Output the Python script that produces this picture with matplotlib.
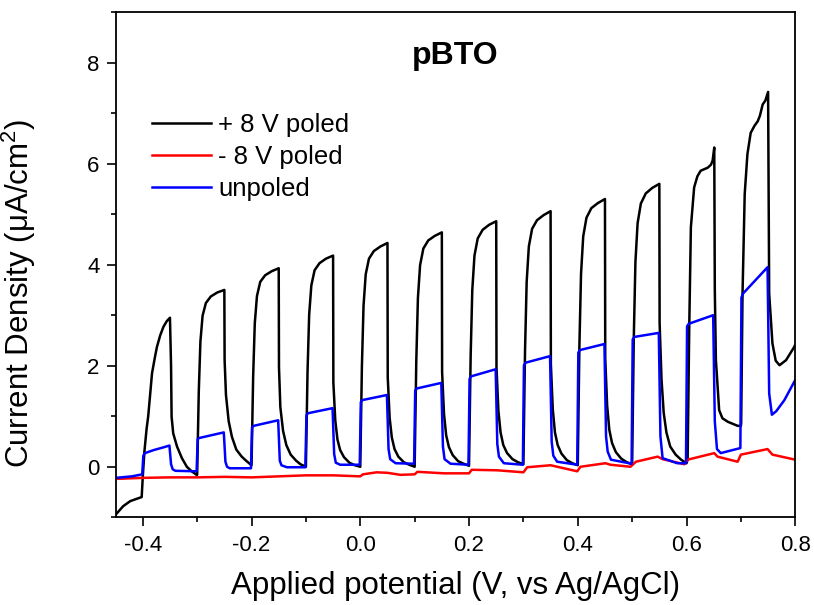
import matplotlib
matplotlib.use("Agg")
import matplotlib.pyplot as plt
from matplotlib.ticker import MultipleLocator

plt.rcParams["font.family"] = ["Liberation Sans", "DejaVu Sans"]
plt.rcParams["mathtext.fontset"] = "custom"
plt.rcParams["mathtext.rm"] = "Liberation Sans"
plt.rcParams["mathtext.it"] = "Liberation Sans:italic"

# chopped-light LSV (potential in V, current in uA/cm2)
pos_x = [
    -0.450, -0.436, -0.423, -0.410, -0.402, -0.400, -0.397, -0.393, -0.390, -0.386, -0.383, -0.378, -0.374, -0.368, -0.362, -0.356, -0.350,
    -0.348, -0.347, -0.344, -0.337, -0.328, -0.319, -0.310, -0.301,
    -0.300, -0.297, -0.294, -0.290, -0.284, -0.275, -0.263, -0.250, -0.2495, -0.247, -0.242, -0.236, -0.228, -0.218, -0.210,
    -0.200, -0.197, -0.194, -0.190, -0.184, -0.175, -0.163, -0.150, -0.1495, -0.147, -0.142, -0.136, -0.128, -0.118, -0.110,
    -0.100, -0.097, -0.094, -0.090, -0.084, -0.075, -0.063, -0.050, -0.0495, -0.046, -0.042, -0.037, -0.030, -0.020, -0.010,
    0.000, 0.003, 0.006, 0.010, 0.016, 0.025, 0.037, 0.050, 0.0505, 0.054, 0.058, 0.063, 0.070, 0.080, 0.090,
    0.100, 0.103, 0.106, 0.110, 0.116, 0.125, 0.137, 0.150, 0.1505, 0.154, 0.158, 0.163, 0.170, 0.180, 0.190,
    0.200, 0.203, 0.206, 0.210, 0.216, 0.225, 0.237, 0.250, 0.2505, 0.254, 0.258, 0.263, 0.270, 0.280, 0.290,
    0.300, 0.303, 0.306, 0.310, 0.316, 0.325, 0.337, 0.350, 0.3505, 0.354, 0.358, 0.363, 0.370, 0.380, 0.390,
    0.400, 0.403, 0.406, 0.410, 0.416, 0.425, 0.437, 0.450, 0.4505, 0.454, 0.458, 0.463, 0.470, 0.480, 0.490,
    0.500, 0.503, 0.506, 0.510, 0.516, 0.525, 0.537, 0.550, 0.5505, 0.554, 0.558, 0.563, 0.570, 0.580, 0.590,
    0.600, 0.602, 0.605, 0.608, 0.614, 0.620, 0.626, 0.639, 0.645, 0.648, 0.651, 0.652, 0.654, 0.660, 0.666, 0.676, 0.694,
    0.700, 0.7005, 0.703, 0.707, 0.712, 0.718, 0.725, 0.731, 0.735, 0.740, 0.745, 0.750, 0.752, 0.758, 0.764, 0.771, 0.783, 0.798, 0.800,
]
pos_y = [
    -0.95, -0.78, -0.68, -0.63, -0.60, -0.20, 0.30, 0.75, 1.00, 1.50, 1.85, 2.15, 2.37, 2.60, 2.77, 2.88, 2.95,
    2.00, 0.99, 0.66, 0.40, 0.17, 0.00, -0.09, -0.16,
    -0.16, 1.49, 2.48, 2.99, 3.24, 3.37, 3.45, 3.50, 2.11, 1.42, 0.90, 0.59, 0.34, 0.20, 0.12,
    0.03, 1.79, 2.84, 3.38, 3.66, 3.79, 3.87, 3.93, 1.97, 1.18, 0.71, 0.43, 0.24, 0.12, 0.05,
    0.00, 1.88, 3.01, 3.59, 3.89, 4.03, 4.12, 4.18, 1.67, 0.92, 0.54, 0.33, 0.19, 0.08, 0.03,
    0.00, 1.99, 3.19, 3.81, 4.12, 4.27, 4.36, 4.43, 1.77, 0.97, 0.58, 0.35, 0.20, 0.09, 0.04,
    0.00, 2.09, 3.34, 3.99, 4.32, 4.48, 4.57, 4.64, 1.87, 1.04, 0.62, 0.39, 0.23, 0.11, 0.06,
    0.02, 2.20, 3.50, 4.18, 4.52, 4.69, 4.79, 4.86, 1.97, 1.11, 0.68, 0.43, 0.27, 0.15, 0.09,
    0.05, 2.30, 3.66, 4.36, 4.71, 4.88, 4.98, 5.06, 2.04, 1.14, 0.68, 0.43, 0.26, 0.13, 0.07,
    0.03, 2.40, 3.82, 4.56, 4.93, 5.12, 5.22, 5.30, 2.15, 1.21, 0.73, 0.47, 0.29, 0.16, 0.09,
    0.05, 2.55, 4.05, 4.82, 5.21, 5.41, 5.52, 5.60, 2.84, 1.73, 1.07, 0.68, 0.40, 0.24, 0.14,
    0.07, 0.14, 2.77, 4.74, 5.53, 5.75, 5.86, 5.92, 5.98, 6.06, 6.32, 3.50, 2.11, 1.12, 0.96, 0.89, 0.81,
    0.81, 0.86, 3.43, 5.40, 6.19, 6.61, 6.75, 6.84, 6.95, 7.17, 7.25, 7.42, 3.43, 2.44, 2.10, 2.01, 2.11, 2.37, 2.42,
]

neg_x = [-0.45, -0.40, -0.35, -0.30, -0.25, -0.20, -0.15, -0.10, -0.05, 0.0, 0.005, 0.03, 0.05, 0.074,
         0.10, 0.105, 0.154, 0.20, 0.205, 0.252, 0.30, 0.307, 0.35, 0.399, 0.405, 0.451, 0.46, 0.497,
         0.507, 0.547, 0.556, 0.596, 0.602, 0.651, 0.657, 0.694, 0.70, 0.749, 0.758, 0.80]
neg_y = [-0.24, -0.22, -0.21, -0.21, -0.20, -0.21, -0.19, -0.17, -0.17, -0.19, -0.15, -0.11, -0.12, -0.16,
         -0.15, -0.10, -0.13, -0.13, -0.06, -0.07, -0.11, -0.01, 0.03, -0.09, 0.00, 0.07, 0.04, 0.00,
         0.10, 0.20, 0.15, 0.05, 0.14, 0.27, 0.20, 0.10, 0.24, 0.35, 0.24, 0.14]

unp_x = [
    -0.45, -0.42, -0.401, -0.399, -0.396, -0.38, -0.36, -0.351, -0.348, -0.345, -0.34, -0.301,
    -0.299, -0.296, -0.251, -0.248, -0.245, -0.24, -0.201,
    -0.199, -0.196, -0.151, -0.148, -0.145, -0.135, -0.101,
    -0.099, -0.096, -0.051, -0.048, -0.045, -0.037, -0.001,
    0.001, 0.004, 0.049, 0.052, 0.055, 0.065, 0.099,
    0.101, 0.104, 0.149, 0.152, 0.155, 0.166, 0.199,
    0.201, 0.204, 0.249, 0.252, 0.255, 0.264, 0.299,
    0.301, 0.304, 0.349, 0.352, 0.355, 0.362, 0.399,
    0.401, 0.404, 0.449, 0.452, 0.455, 0.461, 0.499,
    0.501, 0.504, 0.549, 0.552, 0.556, 0.583, 0.599,
    0.601, 0.604, 0.649, 0.652, 0.656, 0.663, 0.699,
    0.701, 0.704, 0.749, 0.752, 0.757, 0.765, 0.78, 0.80,
]
unp_y = [
    -0.22, -0.19, -0.15, 0.22, 0.27, 0.33, 0.39, 0.42, 0.05, -0.05, -0.08, -0.09,
    0.55, 0.57, 0.68, 0.10, 0.00, -0.03, -0.03,
    0.78, 0.81, 0.92, 0.12, 0.03, -0.01, -0.01,
    1.02, 1.06, 1.16, 0.25, 0.08, 0.04, 0.04,
    1.28, 1.32, 1.42, 0.35, 0.15, 0.07, 0.06,
    1.51, 1.55, 1.66, 0.40, 0.15, 0.06, 0.04,
    1.74, 1.79, 1.93, 0.45, 0.20, 0.07, 0.04,
    2.01, 2.06, 2.19, 0.50, 0.22, 0.10, 0.04,
    2.26, 2.31, 2.43, 0.60, 0.30, 0.14, 0.06,
    2.52, 2.57, 2.65, 0.60, 0.17, 0.07, 0.07,
    2.78, 2.83, 3.00, 0.90, 0.35, 0.27, 0.37,
    3.35, 3.43, 3.95, 1.45, 1.03, 1.10, 1.32, 1.72,
]

fig = plt.figure(figsize=(8.14, 6.05), dpi=100)
ax = fig.add_axes([0.142, 0.145, 0.835, 0.835])

lw = 1.8
ax.plot(pos_x, pos_y, color="black", lw=lw, label="+ 8 V poled")
ax.plot(neg_x, neg_y, color="red", lw=lw, label="- 8 V poled")
ax.plot(unp_x, unp_y, color="blue", lw=lw, label="unpoled")

ax.set_xlim(-0.45, 0.8)
ax.set_ylim(-1, 9)
ax.xaxis.set_major_locator(MultipleLocator(0.2))
ax.xaxis.set_minor_locator(MultipleLocator(0.1))
ax.yaxis.set_major_locator(MultipleLocator(2))
ax.yaxis.set_minor_locator(MultipleLocator(1))
ax.xaxis.set_major_formatter(plt.FuncFormatter(lambda v, p: f"{v:.1f}".replace("-0.0", "0.0")))
ax.tick_params(which="both", direction="out", top=False, right=False, width=1.2, labelsize=16)
ax.tick_params(which="major", length=6.5)
ax.tick_params(which="minor", length=3.5)
ax.tick_params(axis="x", which="major", pad=6)
ax.tick_params(axis="y", which="major", pad=5)
for s in ax.spines.values():
    s.set_linewidth(1.3)

ax.set_xlabel("Applied potential (V, vs Ag/AgCl)", fontsize=22.5)
ax.set_ylabel("Current Density (\u03bcA/cm$^2$)", fontsize=22.5)
ax.xaxis.set_label_coords(0.5, -0.107)
ax.yaxis.set_label_coords(-0.114, 0.444)

ax.text(0.5, 0.898, "pBTO", transform=ax.transAxes, ha="center", va="baseline",
        fontsize=23, fontweight="bold")

ax.legend(loc="upper left", bbox_to_anchor=(0.053, 0.80), frameon=False, fontsize=18.5,
          borderpad=0, borderaxespad=0, handlelength=2.3, handletextpad=0.3, labelspacing=0.3)

fig.savefig("out.png", dpi=100)
